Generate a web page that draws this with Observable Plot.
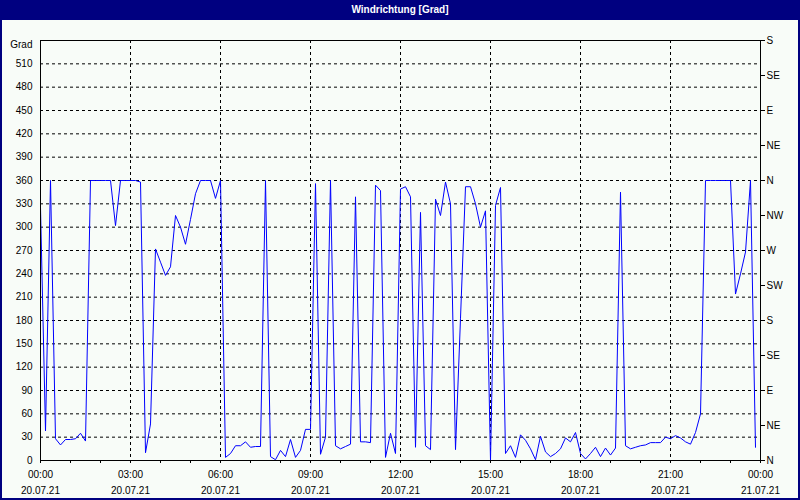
<!DOCTYPE html>
<html><head><meta charset="utf-8">
<script src="https://cdn.jsdelivr.net/npm/d3@7"></script>
<script src="https://cdn.jsdelivr.net/npm/@observablehq/plot@0.6"></script>
<style>
html,body{margin:0;padding:0;background:#f8fcf8;}
#wrap{position:relative;width:800px;height:500px;background:#f8fcf8;overflow:hidden;}
#title{height:20px;background:#000080;color:#fff;font:bold 10px "Liberation Sans",Arial,sans-serif;text-align:center;line-height:20px;}
#border{position:absolute;left:0;top:0;width:800px;height:500px;box-sizing:border-box;border:2px solid #000080;border-top:none;pointer-events:none;}
#chart svg{display:block;}
</style></head>
<body><div id="wrap"><div id="title">Windrichtung [Grad]</div><div id="chart"></div><div id="border"></div></div>
<script>
// 10-minute samples, 20.07.21 00:00 .. 23:50 (UTC labels)
const startTime = "2021-07-20T00:00Z";
const endTime = "2021-07-21T00:00Z";
const stepMinutes = 10;
const direction = [
  326, 38, 360, 28, 20, 27, 27, 28, 35, 25,
  360, 360, 360, 360, 360, 302, 360, 360, 360, 360,
  358, 10, 47, 272, 255, 238, 249, 315, 300, 278,
  310, 343, 360, 360, 360, 337, 360, 4, 9, 19,
  19, 24, 17, 18, 18, 360, 5, 1, 13, 5,
  27, 4, 13, 40, 40, 356, 8, 30, 360, 19,
  15, 18, 21, 339, 24, 24, 23, 354, 347, 4,
  35, 9, 349, 352, 339, 17, 319, 19, 14, 336,
  315, 358, 330, 14, 183, 352, 352, 330, 300, 321,
  0, 328, 351, 9, 19, 4, 33, 26, 15, 1,
  31, 11, 5, 9, 15, 29, 24, 36, 9, 2,
  9, 17, 5, 16, 7, 16, 345, 19, 15, 17,
  19, 20, 23, 23, 23, 30, 28, 32, 29, 24,
  21, 36, 60, 360, 360, 360, 360, 360, 360, 214,
  240, 268, 360, 17
];
const gradTicks = [0, 30, 60, 90, 120, 150, 180, 210, 240, 270, 300, 330, 360, 390, 420, 450, 480, 510];
const gradGrid = [30, 60, 90, 120, 150, 180, 210, 240, 270, 300, 330, 360, 390, 420, 450, 480, 510];
const yTop = 540;
const compassTicks = [0, 45, 90, 135, 180, 225, 270, 315, 360, 405, 450, 495, 540];
const compassLabels = ["N", "NE", "E", "SE", "S", "SW", "W", "NW", "N", "NE", "E", "SE", "S"];

const t0 = new Date(startTime), t1 = new Date(endTime);
const data = direction.map((v, i) => ({time: new Date(+t0 + i * stepMinutes * 60000), value: v}));
const majorTicks = d3.utcHour.every(3).range(t0, new Date(+t1 + 1));
const hourTicks = d3.utcHour.every(1).range(t0, new Date(+t1 + 1));
const innerMajor = majorTicks.slice(1, -1);
const font = '"Liberation Sans", Arial, sans-serif';

const chart = Plot.plot({
  width: 800, height: 480,
  marginTop: 20, marginBottom: 40, marginLeft: 40, marginRight: 40,
  style: {background: "#f8fcf8", color: "black", fontFamily: font, fontSize: "10px", overflow: "visible"},
  x: {type: "utc", domain: [t0, t1], label: null},
  y: {domain: [0, yTop], label: null},
  marks: [
    Plot.gridY(gradGrid, {stroke: "black", strokeOpacity: 1, strokeDasharray: "3,3"}),
    Plot.gridX(innerMajor, {stroke: "black", strokeOpacity: 1, strokeDasharray: "3,3"}),
    Plot.line(data, {x: "time", y: "value", stroke: "#0000ff", strokeWidth: 1}),
    Plot.frame({stroke: "black"}),
    Plot.axisY(gradTicks, {anchor: "left", tickSize: 0, tickPadding: 8, label: null, fill: "black"}),
    Plot.axisY([yTop], {anchor: "left", tickSize: 0, tickPadding: 8, dy: 4, label: null, tickFormat: () => "Grad", fill: "black"}),
    Plot.axisY(compassTicks, {anchor: "right", tickSize: 4, tickPadding: 2, label: null, stroke: "black",
      tickFormat: d => compassLabels[compassTicks.indexOf(d)], fill: "black"}),
    Plot.axisX(hourTicks, {anchor: "bottom", tickSize: 3, label: null, tickFormat: () => "", stroke: "black"}),
    Plot.axisX(majorTicks, {anchor: "bottom", tickSize: 0, tickPadding: 10, label: null, tickFormat: d3.utcFormat("%H:%M"), fill: "black"}),
    Plot.axisX(majorTicks, {anchor: "bottom", tickSize: 0, tickPadding: 26, label: null, tickFormat: d3.utcFormat("%d.%m.%y"), fill: "black"})
  ]
});
document.getElementById("chart").appendChild(chart);
</script>
</body></html>
